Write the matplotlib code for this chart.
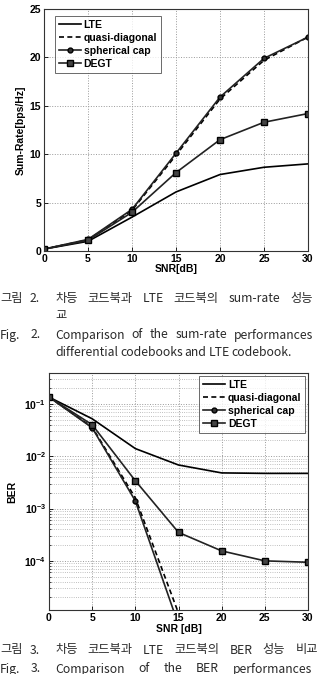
import numpy as np
import matplotlib.pyplot as plt
from matplotlib.ticker import LogLocator, NullFormatter

# ==========================================
# 데이터
# ==========================================
snr = [0, 5, 10, 15, 20, 25, 30]

# 그림 2: sum-rate [bps/Hz]
rate_lte = [0.2, 1.0, 3.5, 6.1, 7.9, 8.65, 9.0]
rate_quasi = [0.2, 1.15, 4.2, 9.9, 15.7, 19.7, 22.1]
rate_sphere = [0.2, 1.2, 4.3, 10.1, 15.9, 19.9, 22.1]
rate_degt = [0.2, 1.1, 4.0, 8.1, 11.5, 13.3, 14.2]

# 그림 3: BER
ber_lte = [0.135, 0.052, 0.0140, 0.0068, 0.0048, 0.0047, 0.0047]
ber_quasi = [0.135, 0.036, 0.0016, 1.0e-5, np.nan, np.nan, np.nan]
ber_sphere = [0.135, 0.035, 0.0014, 6.0e-6, np.nan, np.nan, np.nan]
ber_degt = [0.135, 0.040, 0.0034, 3.5e-4, 1.55e-4, 1.0e-4, 9.4e-5]

labels = ['LTE', 'quasi-diagonal', 'spherical cap', 'DEGT']

W, H = 320, 674
fig = plt.figure(figsize=(W / 100, H / 100), dpi=100)

lab_font = dict(fontsize=7.5, fontweight='bold', family='Liberation Sans')
cap_font = dict(fontsize=8.8, color='#2a2a2a', family=['Noto Sans CJK KR', 'DejaVu Sans'])


def ax_rect(left, top, right, bottom):
    # 픽셀 좌표 -> figure 비율
    return [left / W, 1 - bottom / H, (right - left) / W, (bottom - top) / H]


def draw_lines(ax, lte, quasi, sphere, degt):
    ax.plot(snr, lte, color='black', lw=1.2, label=labels[0])
    ax.plot(snr, quasi, color='black', lw=1.2, ls=(0, (3, 2)), label=labels[1])
    ax.plot(snr, sphere, color='#222222', lw=1.2, marker='o', ms=3.5,
            mfc='#333333', mec='black', label=labels[2])
    ax.plot(snr, degt, color='#222222', lw=1.2, marker='s', ms=4,
            mfc='#444444', mec='black', label=labels[3])


def style_axes(ax):
    ax.set_xlim(0, 30)
    ax.set_xticks(snr)
    ax.tick_params(direction='in', length=3, width=0.6, pad=2)
    for lab in ax.get_xticklabels() + ax.get_yticklabels():
        lab.set_fontsize(7.5)
        lab.set_fontweight('bold')
        lab.set_family('Liberation Sans')
    for s in ax.spines.values():
        s.set_linewidth(0.8)
        s.set_color('#333333')


def legend(ax, loc, anchor):
    leg = ax.legend(loc=loc, bbox_to_anchor=anchor,
                    prop=dict(size=7.5, weight='bold', family='Liberation Sans'),
                    frameon=True, fancybox=False, edgecolor='#444444',
                    handlelength=2.1, handletextpad=0.3, borderpad=0.35,
                    labelspacing=0.3, borderaxespad=0)
    leg.get_frame().set_linewidth(0.7)


# ---------- 그림 2 ----------
ax1 = fig.add_axes(ax_rect(44, 9, 308, 251))
draw_lines(ax1, rate_lte, rate_quasi, rate_sphere, rate_degt)
ax1.set_ylim(0, 25)
ax1.set_yticks([0, 5, 10, 15, 20, 25])
ax1.grid(True, ls=':', lw=0.7, color='#999999')
style_axes(ax1)
ax1.set_xlabel('SNR[dB]', labelpad=0, **lab_font)
ax1.set_ylabel('Sum-Rate[bps/Hz]', labelpad=3, **lab_font)
legend(ax1, 'upper left', (11 / 264, 1 - 7 / 242))

# ---------- 그림 3 ----------
ax2 = fig.add_axes(ax_rect(49, 373, 308, 610))
draw_lines(ax2, ber_lte, ber_quasi, ber_sphere, ber_degt)
ax2.set_yscale('log')
ax2.set_ylim(1.15e-5, 0.39)
ax2.set_yticks([1e-4, 1e-3, 1e-2, 1e-1])
ax2.yaxis.set_minor_locator(LogLocator(base=10, subs=np.arange(2, 10), numticks=20))
ax2.yaxis.set_minor_formatter(NullFormatter())
ax2.grid(True, which='major', ls=':', lw=0.7, color='#999999')
ax2.grid(True, which='minor', axis='y', ls=':', lw=0.6, color='#aaaaaa')
style_axes(ax2)
ax2.tick_params(which='minor', direction='in', length=1.5, width=0.5)
ax2.set_xlabel('SNR [dB]', labelpad=1, **lab_font)
ax2.set_ylabel('BER', labelpad=5, **lab_font)
legend(ax2, 'upper right', (1 - 3 / 259, 1 - 3 / 237))

# ---------- 캡션 ----------
renderer = fig.canvas.get_renderer()


def put(x, y, s):
    return fig.text(x / W, 1 - y / H, s, ha='left', va='center', **cap_font)


def justify(y, words, x0, x1):
    # 양쪽 정렬: 단어 폭을 재서 간격을 고르게 나눈다
    texts = [put(x0, y, w) for w in words]
    widths = [t.get_window_extent(renderer).width for t in texts]
    gap = (x1 - x0 - sum(widths)) / max(len(words) - 1, 1)
    x = x0
    for t, w in zip(texts, widths):
        t.set_x(x / W)
        x += w + gap


put(0, 298, '그림')
put(30, 298, '2.')
justify(298, ['차등', '코드북과', 'LTE', '코드북의', 'sum-rate', '성능'], 55, 313)
put(55, 316, '교')
put(0, 335, 'Fig.')
put(31, 335, '2.')
justify(335, ['Comparison', 'of', 'the', 'sum-rate', 'performances'], 55, 313)
justify(352, ['differential', 'codebooks', 'and', 'LTE', 'codebook.'], 55, 292)

put(0, 650, '그림')
put(30, 650, '3.')
justify(650, ['차등', '코드북과', 'LTE', '코드북의', 'BER', '성능', '비교'], 55, 318)
put(0, 669, 'Fig.')
put(31, 669, '3.')
justify(669, ['Comparison', 'of', 'the', 'BER', 'performances'], 55, 312)

fig.savefig('out.png', dpi=100)
